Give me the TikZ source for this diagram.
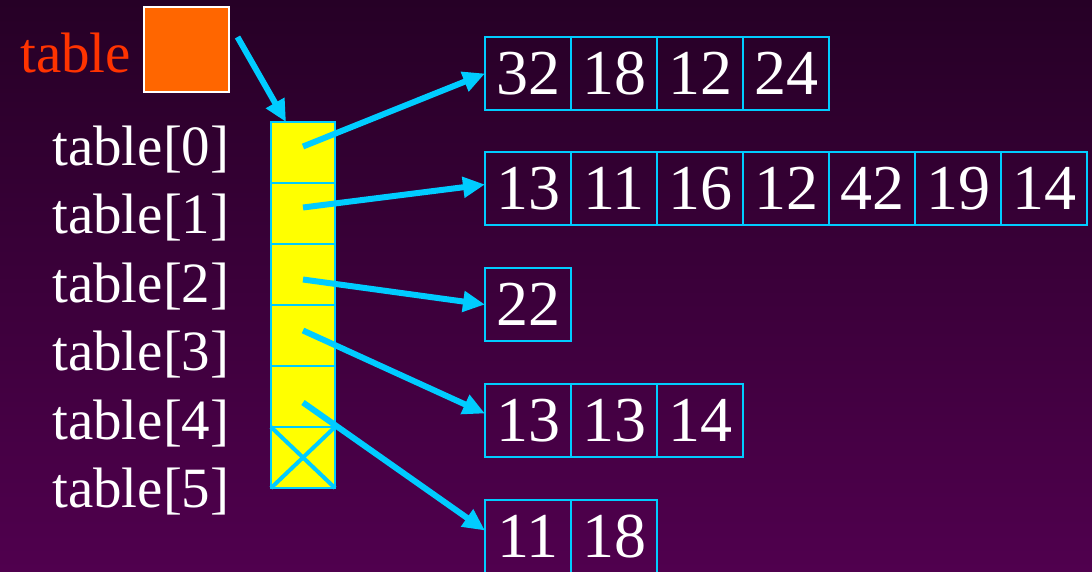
\documentclass[tikz,border=0pt]{standalone}
\usepackage{fontspec}
\setmainfont{Liberation Serif}
\usetikzlibrary{arrows.meta,positioning}
\definecolor{bgtop}{HTML}{260026}
\definecolor{bgbottom}{HTML}{50004E}
\definecolor{linecyan}{HTML}{00CCFF}
\definecolor{slotyellow}{HTML}{FFFF00}
\definecolor{headorange}{HTML}{FF6600}
\definecolor{namered}{HTML}{FF3300}

\begin{document}
\begin{tikzpicture}[x=1pt, y=-1pt,
        cell/.style={draw=linecyan, line width=1.5pt, minimum width=86pt, minimum height=73pt, inner sep=0pt, outer sep=0pt, anchor=north west, text=white, font=\fontsize{64}{64}\selectfont},
        slot/.style={draw=linecyan, fill=slotyellow, line width=1.5pt, minimum width=64pt, minimum height=61pt, inner sep=0pt, outer sep=0pt, anchor=north west},
        idxlabel/.style={text=white, inner sep=0pt, anchor=base west, font=\fontsize{57}{57}\selectfont},
        ptr/.style={draw=linecyan, line width=6pt, -{Triangle[length=22pt,width=20pt]}}
    ]
    \shade[top color=bgtop, bottom color=bgbottom] (0,0) rectangle (1092,571);
    \useasboundingbox (0,0) rectangle (1092,571);

    % the pointer variable
    \node[idxlabel, text=namered] (name) at (20,72) {table};
    \node[draw=white, fill=headorange, line width=1.5pt, minimum size=85pt, inner sep=0pt, anchor=north west] (head) at (143,6) {};

    % index labels
    \node[idxlabel] (lab0) at (52,165) {table[0]};
    \node[idxlabel] (lab1) at (52,233) {table[1]};
    \node[idxlabel] (lab2) at (52,302) {table[2]};
    \node[idxlabel] (lab3) at (52,370) {table[3]};
    \node[idxlabel] (lab4) at (52,439) {table[4]};
    \node[idxlabel] (lab5) at (52,507) {table[5]};

    % array of row pointers
    \node[slot] (slot0) at (271,122) {};
    \node[slot, below=0pt of slot0] (slot1) {};
    \node[slot, below=0pt of slot1] (slot2) {};
    \node[slot, below=0pt of slot2] (slot3) {};
    \node[slot, below=0pt of slot3] (slot4) {};
    \node[slot, below=0pt of slot4] (slot5) {};
    \draw[linecyan, line width=4pt] (slot5.north west) -- (slot5.south east);
    \draw[linecyan, line width=4pt] (slot5.north east) -- (slot5.south west);

    % rows
    \node[cell] (c00) at (485,37) {32};
    \node[cell, right=0pt of c00] (c01) {18};
    \node[cell, right=0pt of c01] (c02) {12};
    \node[cell, right=0pt of c02] (c03) {24};

    \node[cell] (c10) at (485,152) {13};
    \node[cell, right=0pt of c10] (c11) {11};
    \node[cell, right=0pt of c11] (c12) {16};
    \node[cell, right=0pt of c12] (c13) {12};
    \node[cell, right=0pt of c13] (c14) {42};
    \node[cell, right=0pt of c14] (c15) {19};
    \node[cell, right=0pt of c15] (c16) {14};

    \node[cell] (c20) at (485,268) {22};

    \node[cell] (c30) at (485,384) {13};
    \node[cell, right=0pt of c30] (c31) {13};
    \node[cell, right=0pt of c31] (c32) {14};

    \node[cell] (c40) at (485,500) {11};
    \node[cell, right=0pt of c40] (c41) {18};

    % pointers
    \draw[ptr] ([shift={(8,31)}]head.north east) -- ([xshift=15pt]slot0.north west);
    \draw[ptr] ([yshift=6pt]slot0.center) -- (c00.west);
    \draw[ptr] ([yshift=6pt]slot1.center) -- ([yshift=4pt]c10.west);
    \draw[ptr] ([yshift=-5pt]slot2.center) -- (c20.west);
    \draw[ptr] ([yshift=5pt]slot3.center) -- ([yshift=7pt]c30.west);
    \draw[ptr] ([yshift=-6pt]slot4.center) -- ([yshift=6pt]c40.west);
\end{tikzpicture}
\end{document}
